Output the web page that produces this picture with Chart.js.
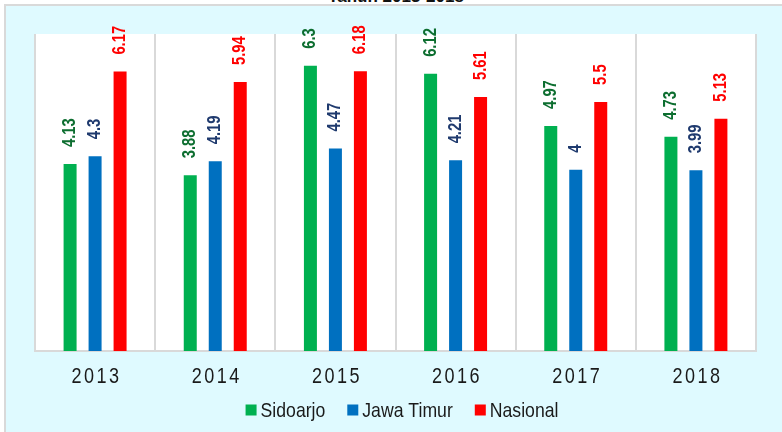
<!DOCTYPE html>
<html>
<head>
<meta charset="utf-8">
<script src="https://cdn.jsdelivr.net/npm/chart.js@4.4.1/dist/chart.umd.min.js"></script>
<style>
  body { margin: 0; background: #fff; }
  #wrap { position: relative; width: 782px; height: 432px; overflow: hidden; }
  #panel { position: absolute; left: 4px; top: 4px; right: -10px; bottom: -10px;
           border: 2px solid #d9d9d9; background: #dffaff; }
  #title { position: absolute; left: 0; width: 792px; top: -12px; text-align: center;
           font: bold 17px "Liberation Sans", Arial, sans-serif; line-height: 17px; color: #111; }
  #c { position: absolute; left: 0; top: 0; }
</style>
</head>
<body>
<div id="wrap">
  <div id="panel"></div>
  <div id="title">Tahun 2013-2018</div>
  <canvas id="c" width="782" height="432"></canvas>
</div>
<script>
// data
const years = ['2013', '2014', '2015', '2016', '2017', '2018'];
const seriesNames = ['Sidoarjo', 'Jawa Timur', 'Nasional'];
const sidoarjo = [4.13, 3.88, 6.3, 6.12, 4.97, 4.73];
const jawaTimur = [4.3, 4.19, 4.47, 4.21, 4, 3.99];
const nasional = [6.17, 5.94, 6.18, 5.61, 5.5, 5.13];

const barColors = ['#00b050', '#0070c0', '#ff0000'];
const labelColors = ['#0d6e30', '#1f3a6e', '#ff0000'];

// no narrow font installed: squeeze Liberation Sans horizontally instead
const FAMILY = '"Liberation Sans", Arial, sans-serif';
const SQUEEZE = 0.82;

const plotBg = {
  id: 'plotBg',
  beforeDraw(chart) {
    const { ctx, chartArea: a } = chart;
    ctx.save();
    ctx.fillStyle = '#ffffff';
    ctx.fillRect(a.left, a.top, a.right - a.left, a.bottom - a.top);
    ctx.restore();
  }
};

const labels = {
  id: 'labels',
  afterDraw(chart) {
    const { ctx, chartArea: a } = chart;
    const xs = chart.scales.x;
    ctx.save();

    // year labels, spaced out
    ctx.font = '22px ' + FAMILY;
    ctx.letterSpacing = '3px';
    ctx.fillStyle = '#1a1a1a';
    ctx.textAlign = 'center';
    ctx.textBaseline = 'middle';
    years.forEach((y, i) => {
      ctx.save();
      ctx.translate(xs.getPixelForValue(i) + 1.5, a.bottom + 26);
      ctx.scale(SQUEEZE, 1);
      ctx.fillText(y, 0, 0);
      ctx.restore();
    });
    ctx.letterSpacing = '0px';

    // rotated value labels
    ctx.font = 'bold 18px ' + FAMILY;
    ctx.textAlign = 'left';
    chart.data.datasets.forEach((ds, di) => {
      const meta = chart.getDatasetMeta(di);
      ctx.fillStyle = labelColors[di];
      meta.data.forEach((bar, i) => {
        ctx.save();
        ctx.translate(bar.x, bar.y - 17);
        ctx.rotate(-Math.PI / 2);
        ctx.scale(SQUEEZE, 1);
        ctx.fillText(String(ds.data[i]), 0, 0);
        ctx.restore();
      });
    });

    // legend
    const lsq = 0.84;
    ctx.font = '21px ' + FAMILY;
    ctx.textAlign = 'left';
    const widths = seriesNames.map(n => ctx.measureText(n).width * lsq);
    const total = widths.reduce((s, w) => s + 11 + 4 + w, 0) + 22 * (seriesNames.length - 1);
    let x = 402 - total / 2;
    const ly = 410;
    seriesNames.forEach((n, i) => {
      ctx.fillStyle = barColors[i];
      ctx.fillRect(x, ly - 5.5, 11, 11);
      ctx.fillStyle = '#1a1a1a';
      ctx.save();
      ctx.translate(x + 15, ly + 1);
      ctx.scale(lsq, 1);
      ctx.fillText(n, 0, 0);
      ctx.restore();
      x += 11 + 4 + widths[i] + 22;
    });
    ctx.restore();
  }
};

const mk = (label, data, i) => ({
  label, data,
  backgroundColor: barColors[i],
  borderWidth: 0,
  categoryPercentage: 0.624,
  barPercentage: 0.52
});

new Chart(document.getElementById('c'), {
  type: 'bar',
  data: {
    labels: years,
    datasets: [
      mk(seriesNames[0], sidoarjo, 0),
      mk(seriesNames[1], jawaTimur, 1),
      mk(seriesNames[2], nasional, 2)
    ]
  },
  options: {
    responsive: false,
    animation: false,
    layout: { padding: { left: 35, right: 26, top: 34, bottom: 42 } },
    scales: {
      x: {
        grid: { color: '#d9d9d9', lineWidth: 2, offset: true, drawTicks: false },
        border: { color: '#d9d9d9', width: 2 },
        ticks: { display: false },
        afterFit: (s) => { s.height = 39; }
      },
      y: { display: false, min: 0, max: 7 }
    },
    plugins: {
      legend: { display: false },
      tooltip: { enabled: false }
    }
  },
  plugins: [plotBg, labels]
});
</script>
</body>
</html>
